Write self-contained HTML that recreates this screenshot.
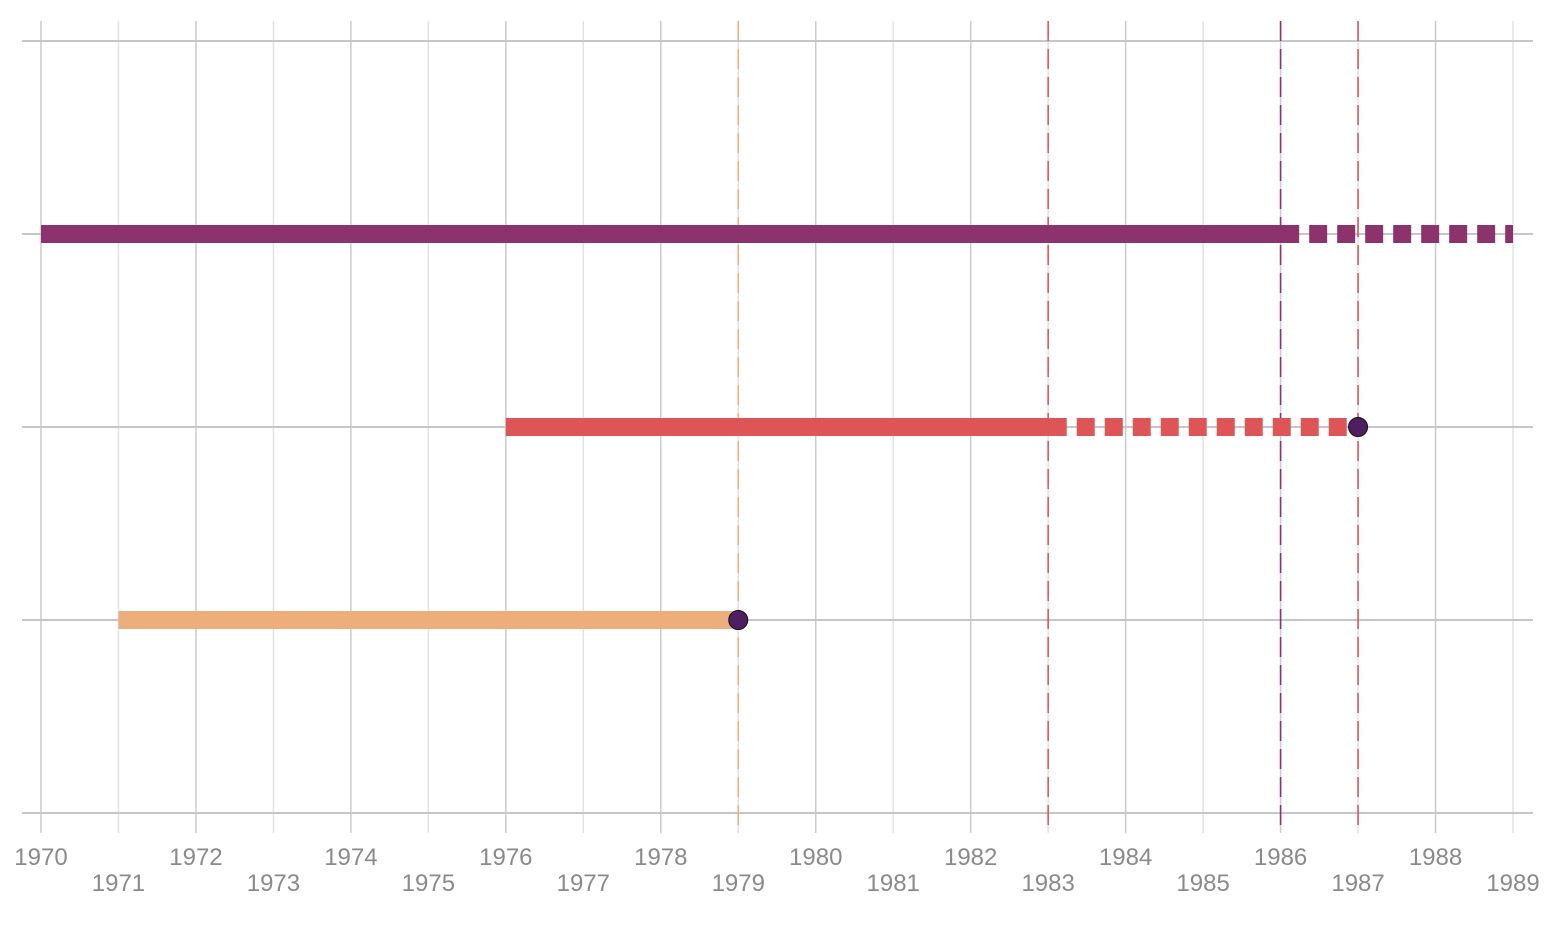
<!DOCTYPE html>
<html><head><meta charset="utf-8"><style>
body{margin:0;background:#fff}
svg{display:block;font-family:"Liberation Sans",sans-serif}
</style></head><body>
<svg id="c" width="1555" height="933"></svg>
<script>
const years=[1970,1971,1972,1973,1974,1975,1976,1977,1978,1979,1980,1981,1982,1983,1984,1985,1986,1987,1988,1989];
const rows=[0,1,2,3,4];
const barStart=[1970,1976,1971];
const barSolidEnd=[1986.24,1983.24,1979];
const barEnd=[1989,1987,1979];
const barRow=[3,2,1];
const barColor=['#8c336e','#de5558','#edae7d'];
const barPoint=[false,true,true];
const vlineYear=[1979,1983,1986,1987];
const vlineColor=['#edae7d','#de5558','#8c336e','#de5558'];
const NS='http://www.w3.org/2000/svg';
const svg=document.getElementById('c');
const x=y=>41+(y-1970)*(1513-41)/19;
const yr=r=>813-r*193;
function el(t,a,p){const e=document.createElementNS(NS,t);for(const k in a)e.setAttribute(k,a[k]);(p||svg).appendChild(e);return e;}
years.forEach((yy,i)=>{
 const l=el('line',{x1:x(yy),x2:x(yy),y1:21,y2:833,stroke:i%2?'#e2e2e2':'#cbcbcb','stroke-width':1.5});
 
 
 const t=el('text',{x:x(yy),y:i%2?891:865,'text-anchor':'middle','font-size':24,fill:'#8a8a8a'});
 t.textContent=yy;
 
 
});
rows.forEach(r=>{
 const l=el('line',{x1:22,x2:1533,y1:yr(r),y2:yr(r),stroke:'#c6c6c6','stroke-width':2});
 
 
});
vlineYear.forEach((v,i)=>{
 const l=el('line',{x1:x(v),x2:x(v),y1:21,y2:833,stroke:vlineColor[i],'stroke-width':1.6,'stroke-dasharray':'20 8'});
 
 
});
barStart.forEach((s,i)=>{
 const y=yr(barRow[i]);
 const b=el('line',{x1:x(s),x2:x(barSolidEnd[i]),y1:y,y2:y,stroke:barColor[i],'stroke-width':18});
 
 
 if(barEnd[i]>barSolidEnd[i]){
  const d=el('line',{x1:x(barSolidEnd[i]),x2:x(barEnd[i]),y1:y,y2:y,stroke:barColor[i],'stroke-width':18,'stroke-dasharray':'18 10','stroke-dashoffset':18});
  
  
 }
 if(barPoint[i]){
  const c=el('circle',{cx:x(barEnd[i]),cy:y,r:9.5,fill:'#4d1f62',stroke:'#111','stroke-width':1});
  
  
 }
});
</script>
</body></html>
